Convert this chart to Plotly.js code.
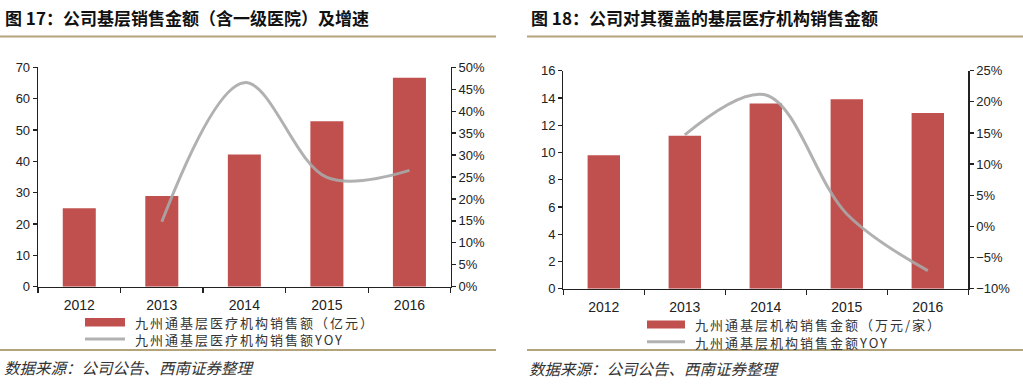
<!DOCTYPE html>
<html><head><meta charset="utf-8">
<script src="https://cdn.plot.ly/plotly-3.0.1.min.js"></script>
<style>html,body{margin:0;padding:0;background:#fff;}#chart{width:1023px;height:387px;}</style>
</head><body><div id="chart"></div>
<script>
// ---- data ----
const years = ['2012','2013','2014','2015','2016'];
const salesAll = [25.0, 28.9, 42.2, 52.8, 66.7];          // 亿元
const salesAllYoy = [null, 0.148, 0.465, 0.249, 0.265];
const salesPerInst = [9.8, 11.23, 13.6, 13.9, 12.9];      // 万元/家
const salesPerInstYoy = [null, 0.147, 0.211, 0.02, -0.071];

const title1 = '图 17：公司基层销售金额（含一级医院）及增速';
const title2 = '图 18：公司对其覆盖的基层医疗机构销售金额';
const name1a = '九州通基层医疗机构销售额（亿元）';
const name1b = '九州通基层医疗机构销售额YOY';
const name2a = '九州通基层机构销售金额（万元/家）';
const name2b = '九州通基层机构销售金额YOY';
const sourceText = '数据来源：公司公告、西南证券整理';

// ---- layout helpers ----
const W = 1023, H = 387;
const px = x => x / W;
const py = y => 1 - y / H;

const barColor = '#c0504d';
const lineColor = 'rgba(168,168,168,0.9)';
const numFont = {family: 'Liberation Sans, Arial, sans-serif', size: 13, color: '#222'};
const cjk = 'Noto Sans CJK SC, sans-serif';

const traces = [
  {type:'bar', x: years, y: salesAll, xaxis:'x', yaxis:'y', marker:{color: barColor}, name: name1a},
  {type:'scatter', mode:'lines', x: years, y: salesAllYoy, xaxis:'x', yaxis:'y2', connectgaps:false,
   line:{color: lineColor, width: 3, shape:'spline', smoothing:1}, name: name1b},
  {type:'bar', x: years, y: salesPerInst, xaxis:'x2', yaxis:'y3', marker:{color: barColor}, name: name2a},
  {type:'scatter', mode:'lines', x: years, y: salesPerInstYoy, xaxis:'x2', yaxis:'y4',
   line:{color: lineColor, width: 3, shape:'spline', smoothing:1}, name: name2b}
];

const axisCommon = {showline:true, linecolor:'#222', linewidth:1.3, ticks:'outside', ticklen:4,
  tickcolor:'#222', tickwidth:1.3, showgrid:false, zeroline:false, tickfont: numFont, fixedrange:true};
const xCommon = Object.assign({}, axisCommon, {type:'category', categoryorder:'array', categoryarray: years,
  tickson:'boundaries', ticklen:5, ticklabelstandoff:5, tickfont: Object.assign({}, numFont, {size:14})});

const legFont = {family:cjk, size:13, color:'#333'};

const layout = {
  width: W, height: H,
  margin:{l:0, r:0, t:0, b:0},
  paper_bgcolor:'#fff', plot_bgcolor:'rgba(0,0,0,0)',
  showlegend:false,
  bargap: 0.6,
  xaxis: Object.assign({}, xCommon, {domain:[px(38), px(450.7)], anchor:'y'}),
  yaxis: Object.assign({}, axisCommon, {domain:[py(286.7), py(67.3)], range:[0,70], dtick:10, tick0:0}),
  yaxis2: Object.assign({}, axisCommon, {overlaying:'y', side:'right', anchor:'x', range:[0,0.5], dtick:0.05, tick0:0, tickformat:'.0%'}),
  xaxis2: Object.assign({}, xCommon, {domain:[px(563.3), px(968.3)], anchor:'y3'}),
  yaxis3: Object.assign({}, axisCommon, {domain:[py(288.7), py(70.7)], anchor:'x2', range:[0,16], dtick:2, tick0:0}),
  yaxis4: Object.assign({}, axisCommon, {overlaying:'y3', side:'right', anchor:'x2', range:[-0.1,0.25], dtick:0.05, tick0:0, tickformat:'.0%'}),
  shapes: [
    {type:'line', xref:'paper', yref:'paper', x0:px(0), x1:px(496), y0:py(36.5), y1:py(36.5), line:{color:'#b3a47e', width:2}},
    {type:'line', xref:'paper', yref:'paper', x0:px(527), x1:px(1023), y0:py(36.5), y1:py(36.5), line:{color:'#b3a47e', width:2}},
    {type:'line', xref:'paper', yref:'paper', x0:px(0), x1:px(496), y0:py(350), y1:py(350), line:{color:'#b3a47e', width:2}},
    {type:'line', xref:'paper', yref:'paper', x0:px(527), x1:px(1023), y0:py(350), y1:py(350), line:{color:'#b3a47e', width:2}},
    {type:'rect', xref:'paper', yref:'paper', x0:px(85), x1:px(125), y0:py(326.5), y1:py(318), fillcolor:barColor, line:{width:0}},
    {type:'line', xref:'paper', yref:'paper', x0:px(85), x1:px(125), y0:py(339), y1:py(339), line:{color:lineColor, width:3}},
    {type:'rect', xref:'paper', yref:'paper', x0:px(647), x1:px(685), y0:py(328.5), y1:py(320.5), fillcolor:barColor, line:{width:0}},
    {type:'line', xref:'paper', yref:'paper', x0:px(647), x1:px(685), y0:py(341.7), y1:py(341.7), line:{color:lineColor, width:3}}
  ],
  annotations: [
    {xref:'paper', yref:'paper', x:px(3), y:py(18), xanchor:'left', yanchor:'middle', showarrow:false, text:'<b>'+title1+'</b>',
     font:{family:cjk, size:17, color:'#111'}},
    {xref:'paper', yref:'paper', x:px(529), y:py(18), xanchor:'left', yanchor:'middle', showarrow:false, text:'<b>'+title2+'</b>',
     font:{family:cjk, size:17, color:'#111'}},
    {xref:'paper', yref:'paper', x:px(133), y:py(322.5), xanchor:'left', yanchor:'middle', align:'left', showarrow:false, text:name1a, font:legFont},
    {xref:'paper', yref:'paper', x:px(133), y:py(339.5), xanchor:'left', yanchor:'middle', align:'left', showarrow:false, text:name1b, font:legFont},
    {xref:'paper', yref:'paper', x:px(693), y:py(324.5), xanchor:'left', yanchor:'middle', align:'left', showarrow:false, text:name2a, font:legFont},
    {xref:'paper', yref:'paper', x:px(693), y:py(342), xanchor:'left', yanchor:'middle', align:'left', showarrow:false, text:name2b, font:legFont},
    {xref:'paper', yref:'paper', x:px(2), y:py(367), xanchor:'left', yanchor:'middle', showarrow:false, text:'<i>'+sourceText+'</i>',
     font:{family:cjk, size:15.5, color:'#333'}},
    {xref:'paper', yref:'paper', x:px(527), y:py(368), xanchor:'left', yanchor:'middle', showarrow:false, text:'<i>'+sourceText+'</i>',
     font:{family:cjk, size:15.5, color:'#333'}}
  ]
};

Plotly.newPlot('chart', traces, layout, {staticPlot:true, displayModeBar:false}).then(gd => {
  // widen the legend-like labels' letter spacing (annotations 2..5)
  const anns = gd.querySelectorAll('.annotation');
  anns.forEach(a => {
    const idx = +a.getAttribute('data-index');
    if (idx >= 2 && idx <= 5) {
      const t = a.querySelector('.annotation-text');
      if (t) t.style.letterSpacing = '2px';
    }
  });
});
</script></body></html>
